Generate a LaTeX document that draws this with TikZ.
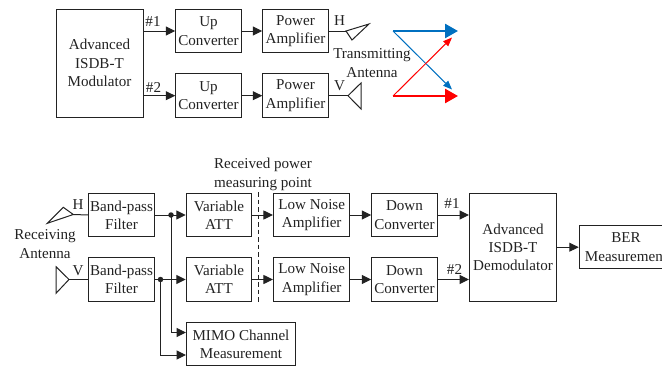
\documentclass[tikz,border=0pt]{standalone}
\usepackage{fontspec}
\setmainfont{Liberation Serif}
\usetikzlibrary{arrows.meta,calc}
\definecolor{ink}{HTML}{222222}
\definecolor{sigblue}{HTML}{0070C0}
\definecolor{sigred}{HTML}{FF0000}
\tikzset{
  blk/.style={draw=ink,line width=1pt,align=center,inner sep=0pt,text=ink,font=\fontsize{15.1}{18.3}\selectfont,execute at begin node={\rule{0pt}{12pt}}},
  lbl/.style={align=center,inner sep=0pt,text=ink,yshift=-1pt,font=\fontsize{15.1}{18.9}\selectfont},
  wire/.style={draw=ink,line width=1pt},
  arr/.style={wire,-{Triangle[length=9.5pt,width=9pt]}},
  dot/.style={circle,fill=ink,inner sep=0pt,minimum size=5.5pt},
  ant/.style={draw=ink,line width=1pt,line join=miter},
  bigarr/.style={line width=2.6pt,-{Triangle[length=13pt,width=14pt]}},
  thinarr/.style={line width=1pt,-{Triangle[length=9pt,width=7pt]}},
}
\begin{document}
\begin{tikzpicture}[x=1pt,y=-1pt]
\useasboundingbox (0,0) rectangle (662,367);
\clip (0,0) rectangle (662,367);
% transmitter blocks
\node[blk,minimum width=87pt,minimum height=108pt] (mod) at (99.5,63) {Advanced\\ISDB-T\\Modulator};
\node[blk,minimum width=65.5pt,minimum height=43.5pt] (up1) at (208.5,31) {Up\\Converter};
\node[blk,minimum width=65.5pt,minimum height=43.5pt] (up2) at (208.5,95.7) {Up\\Converter};
\node[blk,minimum width=65.5pt,minimum height=43.5pt] (pa1) at (295.5,31) {Power\\Amplifier};
\node[blk,minimum width=65.5pt,minimum height=43.5pt] (pa2) at (295.5,95.7) {Power\\Amplifier};
\draw[arr] (mod.east |- up1.west) -- (up1.west);
\draw[arr] (mod.east |- up2.west) -- (up2.west);
\draw[arr] (up1) -- (pa1);
\draw[arr] (up2) -- (pa2);
\node[lbl] (t1) at (153,21) {\#1};
\node[lbl] (t2) at (153.5,86) {\#2};
% transmit antennas
\coordinate (ah) at (346,31);
\coordinate (av) at (348,95.7);
\draw[wire] (pa1) -- (ah);
\draw[wire] (pa2) -- (av);
\draw[ant] (ah) -- (369,24) -- (352,40) -- cycle;
\draw[ant] (av) -- (361,83) -- (361,109) -- cycle;
\node[lbl] (th) at (339.5,20) {H};
\node[lbl] (tv) at (339.5,85) {V};
\node[lbl] (ttx) at (372,62) {Transmitting\\Antenna};
% polarisation arrows
\coordinate (bs) at (393,31);
\coordinate (be) at (458,31);
\coordinate (bd) at (452,89.5);
\coordinate (rs) at (393,96);
\coordinate (re) at (458,96);
\coordinate (rd) at (452,37.5);
\draw[thinarr,sigblue] (bs) -- (bd);
\draw[thinarr,sigred] (rs) -- (rd);
\draw[bigarr,sigblue] (bs) -- (be);
\draw[bigarr,sigred] (rs) -- (re);
% receiver blocks
\node[blk,minimum width=65.5pt,minimum height=43.5pt] (bp1) at (121.5,215) {Band-pass\\Filter};
\node[blk,minimum width=65.5pt,minimum height=43.5pt] (bp2) at (121.5,279.5) {Band-pass\\Filter};
\node[blk,minimum width=65.5pt,minimum height=43.5pt] (at1) at (219,215) {Variable\\ATT};
\node[blk,minimum width=65.5pt,minimum height=43.5pt] (at2) at (219,279.5) {Variable\\ATT};
\node[blk,minimum width=76.5pt,minimum height=43.5pt] (ln1) at (311.7,215) {Low Noise\\Amplifier};
\node[blk,minimum width=76.5pt,minimum height=43.5pt] (ln2) at (311.7,279.5) {Low Noise\\Amplifier};
\node[blk,minimum width=65.5pt,minimum height=43.5pt] (dc1) at (404.5,215) {Down\\Converter};
\node[blk,minimum width=65.5pt,minimum height=43.5pt] (dc2) at (404.5,279.5) {Down\\Converter};
\node[blk,minimum width=87pt,minimum height=108pt] (dem) at (513,247.2) {Advanced\\ISDB-T\\Demodulator};
\node[blk,minimum width=109pt,minimum height=43.5pt] (mim) at (241,344) {MIMO Channel\\Measurement};
\node[blk,minimum width=93.5pt,minimum height=43.5pt] (ber) at (626,247.2) {BER\\Measurement};
% receiver connectors
\node[dot] (d1) at (171,215) {};
\node[dot] (d2) at (160.5,279.5) {};
\draw[arr] (bp1) -- (at1);
\draw[arr] (bp2) -- (at2);
\draw[arr] (at1) -- (ln1);
\draw[arr] (at2) -- (ln2);
\draw[arr] (ln1) -- (dc1);
\draw[arr] (ln2) -- (dc2);
\draw[arr] (dc1) -- (dem.west |- dc1.east);
\draw[arr] (dc2) -- (dem.west |- dc2.east);
\draw[arr] (dem.east |- ber.west) -- (ber.west);
\coordinate (m1) at ($(mim.west)+(0,-11.5)$);
\coordinate (m2) at ($(mim.west)+(0,11)$);
\draw[arr] (d1.center) |- (m1);
\draw[arr] (d2.center) |- (m2);
\node[lbl] (r1) at (452,203) {\#1};
\node[lbl] (r2) at (454.5,268) {\#2};
% measuring point
\coordinate (ms) at (258.5,192);
\coordinate (me) at (258.5,304);
\draw[ink,line width=1pt,dash pattern=on 4.5pt off 3pt] (ms) -- (me);
\node[lbl] (rp) at (263,173) {Received power\\measuring point};
% receive antennas
\coordinate (rh) at (73.3,214.5);
\coordinate (rv) at (69,279.5);
\draw[wire] (rh) -- (bp1.west);
\draw[wire] (rv) -- (bp2.west);
\draw[ant] (rh) -- (63.3,207.3) -- (47.3,223.3) -- cycle;
\draw[ant] (rv) -- (56,266.7) -- (56,293.3) -- cycle;
\node[lbl] (rxh) at (78,204) {H};
\node[lbl] (rxv) at (78,270) {V};
\node[lbl] (rxa) at (45,243.5) {Receiving\\Antenna};
\end{tikzpicture}
\end{document}
